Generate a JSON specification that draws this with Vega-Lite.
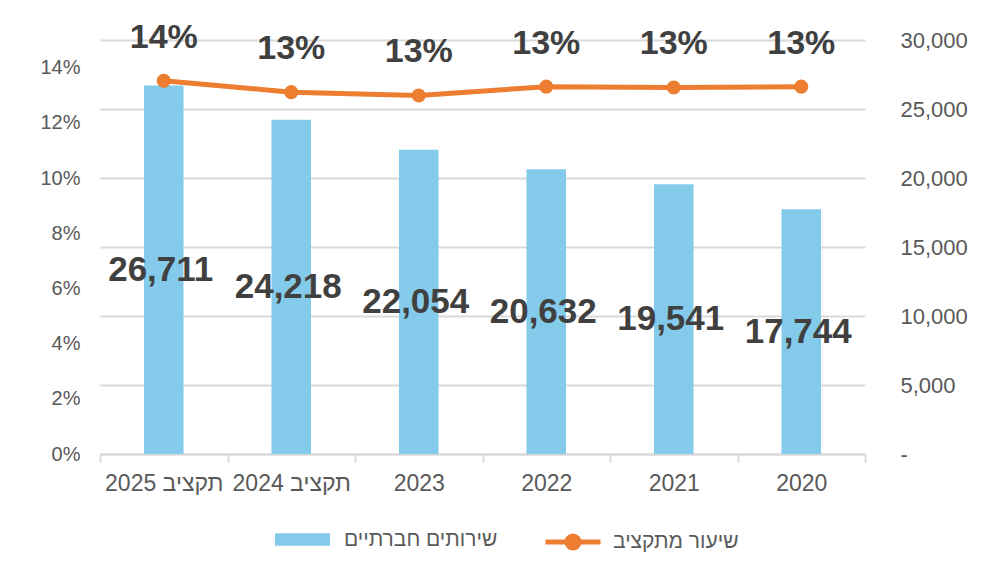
{
  "$schema": "https://vega.github.io/schema/vega-lite/v6.json",
  "width": 765,
  "height": 414,
  "autosize": {"type": "none"},
  "padding": {"left": 100, "top": 40, "right": 123, "bottom": 115},
  "background": "white",
  "config": {
    "view": {"stroke": null},
    "font": "Liberation Sans, Arial, DejaVu Sans, sans-serif"
  },
  "data": {
    "values": [
      {"year": "תקציב 2025", "services": 26711, "rate": 0.1352},
      {"year": "תקציב 2024", "services": 24218, "rate": 0.1311},
      {"year": "2023", "services": 22054, "rate": 0.1299},
      {"year": "2022", "services": 20632, "rate": 0.1331},
      {"year": "2021", "services": 19541, "rate": 0.1328},
      {"year": "2020", "services": 17744, "rate": 0.1331}
    ]
  },
  "encoding": {
    "x": {
      "field": "year",
      "type": "nominal",
      "sort": null,
      "scale": {"paddingInner": 0, "paddingOuter": 0},
      "axis": {
        "title": null,
        "labelAngle": 0,
        "labelFontSize": 23,
        "labelColor": "#595959",
        "labelPadding": 10,
        "domainColor": "#d9d9d9",
        "domainWidth": 2,
        "tickColor": "#d9d9d9",
        "tickWidth": 2,
        "tickSize": 8,
        "tickBand": "extent",
        "grid": false
      }
    }
  },
  "layer": [
    {
      "mark": {"type": "bar", "width": {"band": 0.31}},
      "encoding": {
        "y": {
          "field": "services",
          "type": "quantitative",
          "scale": {"domain": [0, 30000], "nice": false},
          "axis": {
            "orient": "right",
            "title": null,
            "values": [0, 5000, 10000, 15000, 20000, 25000, 30000],
            "labelExpr": "datum.value == 0 ? '-' : format(datum.value, ',')",
            "labelFontSize": 22,
            "labelColor": "#595959",
            "labelPadding": 35,
            "ticks": false,
            "tickSize": 0,
            "domain": false,
            "grid": true,
            "gridColor": "#d9d9d9",
            "gridWidth": 2
          }
        },
        "fill": {
          "datum": "שירותים חברתיים",
          "scale": {"range": ["#84CBEB"]},
          "legend": {
            "orient": "none",
            "legendX": 175,
            "legendY": 472,
            "title": null,
            "symbolType": "M-1,-0.23L1,-0.23L1,0.23L-1,0.23Z",
            "symbolSize": 3025,
            "symbolStrokeWidth": 0,
            "labelFontSize": 21,
            "labelColor": "#595959",
            "labelOffset": 14
          }
        }
      }
    },
    {
      "mark": {"type": "text", "fontSize": 35, "fontWeight": "bold", "color": "#404040", "baseline": "middle", "align": "center", "dx": -3},
      "encoding": {
        "y": {
          "field": "services",
          "type": "quantitative",
          "scale": {"domain": [0, 60000], "nice": false},
          "axis": null
        },
        "text": {"field": "services", "type": "quantitative", "format": ","}
      }
    },
    {
      "encoding": {
        "y": {
          "field": "rate",
          "type": "quantitative",
          "scale": {"domain": [0, 0.15], "nice": false},
          "axis": {
            "orient": "left",
            "title": null,
            "values": [0, 0.02, 0.04, 0.06, 0.08, 0.1, 0.12, 0.14],
            "format": ".0%",
            "labelFontSize": 20,
            "labelColor": "#595959",
            "labelPadding": 20,
            "ticks": false,
            "tickSize": 0,
            "domain": false,
            "grid": false
          }
        }
      },
      "layer": [
        {
          "mark": {"type": "line", "strokeWidth": 5},
          "encoding": {
            "stroke": {
              "datum": "שיעור מתקציב",
              "scale": {"range": ["#ED7D31"]},
              "legend": {
                "orient": "none",
                "legendX": 443,
                "legendY": 472,
                "title": null,
                "symbolType": "M-1,0L1,0M-0.22,0A0.22,0.22,0,1,1,0.22,0A0.22,0.22,0,1,1,-0.22,0Z",
                "symbolSize": 3025,
                "symbolStrokeWidth": 5,
                "labelFontSize": 21,
                "labelColor": "#595959",
                "labelOffset": 10,
                "encode": {"symbols": {"update": {"fill": {"value": "#ED7D31"}}}}
              }
            }
          }
        },
        {
          "mark": {"type": "point", "filled": true, "size": 200, "color": "#ED7D31", "opacity": 1},
          "encoding": {}
        },
        {
          "mark": {"type": "text", "fontSize": 34, "fontWeight": "bold", "color": "#404040", "baseline": "middle", "align": "center", "dy": -43},
          "encoding": {
            "text": {"field": "rate", "type": "quantitative", "format": ".0%"}
          }
        }
      ]
    }
  ],
  "resolve": {"scale": {"y": "independent", "fill": "independent", "stroke": "independent"}}
}
